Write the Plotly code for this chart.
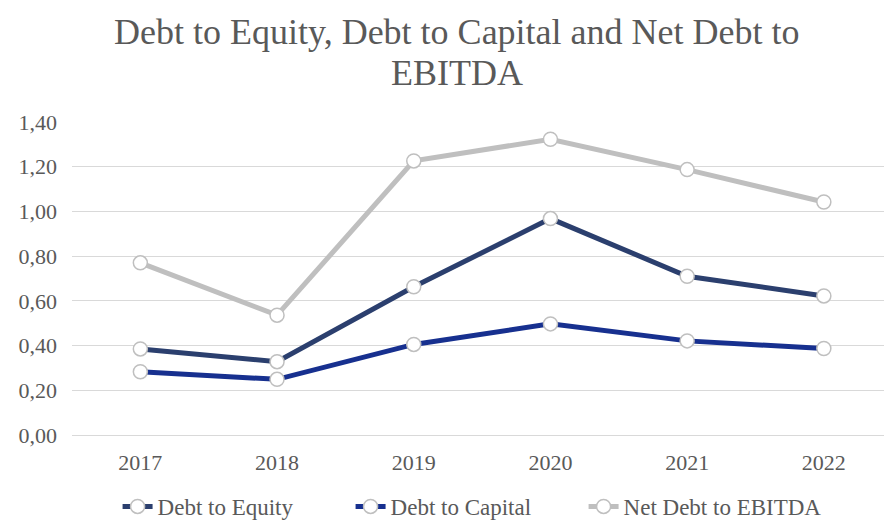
import plotly.graph_objects as go

years = ["2017", "2018", "2019", "2020", "2021", "2022"]
debt_to_equity = [0.385, 0.328, 0.663, 0.968, 0.710, 0.622]
debt_to_capital = [0.283, 0.249, 0.405, 0.497, 0.421, 0.387]
net_debt_to_ebitda = [0.77, 0.536, 1.226, 1.323, 1.187, 1.042]
y_ticks = [0, 0.2, 0.4, 0.6, 0.8, 1.0, 1.2, 1.4]
title_lines = ["Debt to Equity, Debt to Capital and Net Debt to", "EBITDA"]

series = [
    ("Debt to Equity", debt_to_equity, "#2b3f6e", 188),
    ("Debt to Capital", debt_to_capital, "#17308f", 188),
    ("Net Debt to EBITDA", net_debt_to_ebitda, "#bfbfbf", 215),
]

FONT = "Liberation Serif"
GREY = "#595959"
fig = go.Figure()
for name, vals, color, lw in series:
    fig.add_trace(go.Scatter(
        x=list(range(len(years))), y=vals, name=name, mode="lines+markers",
        line=dict(color=color, width=5), legendwidth=lw,
        marker=dict(size=14, color="white", line=dict(color="#bfbfbf", width=1.5)),
    ))

for line, ypx in zip(title_lines, [32, 73]):
    fig.add_annotation(
        text=line, xref="paper", yref="paper", x=0.474, y=(435 - ypx) / 313,
        xanchor="center", yanchor="middle",
        showarrow=False, font=dict(family=FONT, size=36, color=GREY),
    )

fig.update_layout(
    width=884, height=521,
    paper_bgcolor="white", plot_bgcolor="white",
    separators=",.",
    margin=dict(l=72, r=0, t=122, b=86),
    font=dict(family=FONT, color=GREY),
    xaxis=dict(range=[-0.5, 5.44], tickmode="array", tickvals=list(range(len(years))),
               ticktext=years, showgrid=False, zeroline=False, showline=False,
               tickfont=dict(size=22, color=GREY), ticks="", ticklabelstandoff=12),
    yaxis=dict(range=[0, 1.4], tickvals=y_ticks, tickformat=".2f",
               showgrid=True, gridcolor="#d9d9d9", gridwidth=1,
               zeroline=True, zerolinecolor="#d9d9d9", zerolinewidth=1,
               showline=False, ticks="", ticklabelstandoff=14,
               tickfont=dict(size=22, color=GREY)),
    legend=dict(orientation="h", xref="container", yref="container",
                x=122 / 884 - 0.005, xanchor="left", y=(521 - 485) / 521, yanchor="top",
                font=dict(size=23, color=GREY), itemwidth=30,
                bgcolor="rgba(0,0,0,0)"),
    showlegend=True,
)

fig.write_html("out.html")
